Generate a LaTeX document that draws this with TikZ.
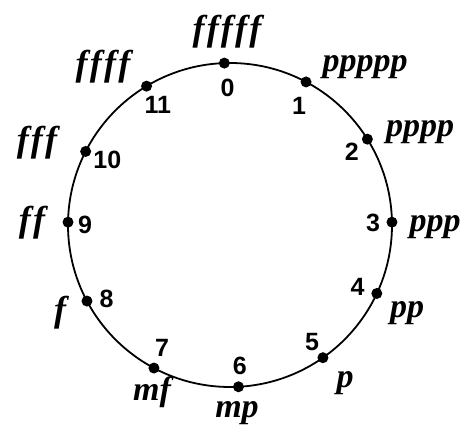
\documentclass[tikz,border=0pt]{standalone}
\usepackage{fontspec}
\setsansfont{Liberation Sans}
\newfontfamily\dynfont[Ligatures=NoCommon]{Liberation Serif}

\begin{document}
\begin{tikzpicture}[
  x=1pt, y=1pt,
  dot/.style={circle, fill, inner sep=0pt, minimum size=11pt},
  num/.style={font=\sffamily\bfseries\fontsize{25}{25}\selectfont, inner sep=0pt},
  dyn/.style={font=\dynfont\bfseries\itshape\fontsize{34}{34}\selectfont, inner sep=0pt},
  dynf/.style={dyn, font=\dynfont\bfseries\itshape\fontsize{36}{36}\selectfont\addfontfeature{LetterSpace=8}}
]
\useasboundingbox (0,0) rectangle (466,425);
\coordinate (c) at (230,200);
\draw[line width=1.8pt] (c) circle (162);

% points on the circle
\node[dot] (p0) at ([shift={(92:162)}]c) {};
\node[dot] (p1) at ([shift={(62:162)}]c) {};
\node[dot] (p2) at ([shift={(32:162)}]c) {};
\node[dot] (p3) at ([shift={(1:162)}]c) {};
\node[dot] (p4) at ([shift={(-25:162)}]c) {};
\node[dot] (p5) at ([shift={(-55:162)}]c) {};
\node[dot] (p6) at ([shift={(-87:162)}]c) {};
\node[dot] (p7) at ([shift={(-118:162)}]c) {};
\node[dot] (p8) at ([shift={(-152:162)}]c) {};
\node[dot] (p9) at ([shift={(179:162)}]c) {};
\node[dot] (p10) at ([shift={(153:162)}]c) {};
\node[dot] (p11) at ([shift={(121:162)}]c) {};

% numbers
\node[num] (n0) at ([shift={(91:137)}]c) {0};
\node[num] (n1) at ([shift={(60:138)}]c) {1};
\node[num] (n2) at ([shift={(31:142)}]c) {2};
\node[num] (n3) at ([shift={(1:143)}]c) {3};
\node[num] (n4) at ([shift={(-26:142)}]c) {4};
\node[num] (n5) at ([shift={(-55:143)}]c) {5};
\node[num] (n6) at ([shift={(-86:141)}]c) {6};
\node[num] (n7) at ([shift={(-119:140)}]c) {7};
\node[num] (n8) at ([shift={(-149:144)}]c) {8};
\node[num] (n9) at ([shift={(180:145)}]c) {9};
\node[num] (n10) at ([shift={(152:139)}]c) {10};
\node[num] (n11) at ([shift={(121:140)}]c) {11};

% dynamics
\node[dynf] (d0) at (227,393) {fffff};
\node[dyn] (d1) at (365,358) {ppppp};
\node[dyn] (d2) at (420,293) {pppp};
\node[dyn] (d3) at (435,198) {ppp};
\node[dyn] (d4) at (407,112) {pp};
\node[dyn] (d5) at (345,42) {p};
\node[dyn] (d6) at (237,12) {mp};
\node[dyn] (d7) at (152,33) {mf};
\node[dynf] (d8) at (60,112) {f};
\node[dynf] (d9) at (32,202) {ff};
\node[dynf] (d10) at (37,282) {fff};
\node[dynf] (d11) at (103,358) {ffff};
\end{tikzpicture}
\end{document}
